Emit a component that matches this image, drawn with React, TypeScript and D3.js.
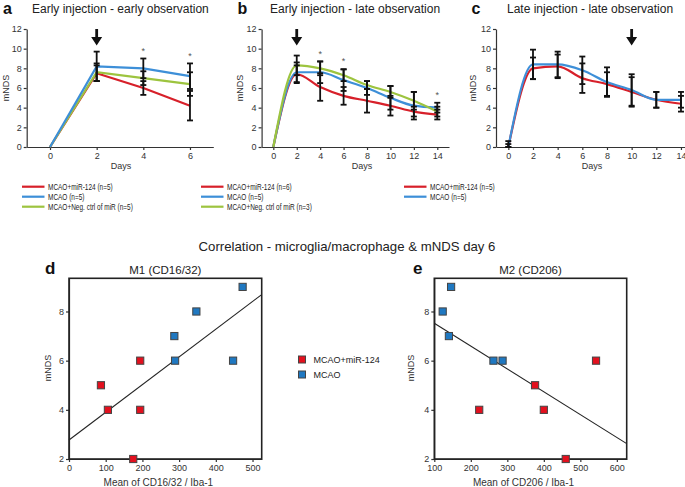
import React, { useRef, useEffect } from 'react';
import * as d3 from 'd3';

const W = 685, H = 487;
const FONT = 'Arial, "Liberation Sans", Helvetica, sans-serif';

const RED = '#d7202a';
const BLUE = '#3d8fd8';
const GREEN = '#9dc43f';
const SQ_RED = '#e3101e';
const SQ_BLUE = '#1f78c1';

// panel a - early injection, early observation
const daysA = [0, 2, 4, 6];
const aRed = [0, 7.5, 6.0, 4.2];
const aRedErr = [0, 0.8, 0.7, 1.5];
const aBlue = [0, 8.2, 8.0, 7.2];
const aBlueErr = [0, 1.5, 1.0, 1.3];
const aGreen = [0, 7.6, 7.0, 6.4];
const aGreenErr = [0, 0.9, 0.7, 1.2];
const aStars = [4, 6];
const aLegend = ['MCAO+miR-124 (n=5)', 'MCAO (n=5)', 'MCAO+Neg. ctrl of miR (n=5)'];

// panel b - early injection, late observation
const daysB = [0, 2, 4, 6, 8, 10, 12, 14];
const bRed = [0, 7.4, 6.1, 5.2, 4.7, 4.2, 3.6, 3.3];
const bRedErr = [0, 0.9, 1.4, 0.9, 1.2, 1.0, 0.5, 0.5];
const bBlue = [0, 7.6, 7.6, 6.8, 6.0, 5.0, 4.2, 4.0];
const bBlueErr = [0, 1.0, 1.1, 1.1, 0.7, 1.2, 1.4, 0.5];
const bGreen = [0, 8.3, 8.0, 7.3, 6.3, 5.6, 4.7, 3.6];
const bGreenErr = [0, 1.0, 0.7, 0.6, 0.4, 0.6, 0.9, 0.5];
const bStars = [4, 6, 14];
const bLegend = ['MCAO+miR-124 (n=6)', 'MCAO (n=5)', 'MCAO+Neg. ctrl of miR (n=3)'];

// panel c - late injection, late observation
const daysC = [0, 2, 4, 6, 8, 10, 12, 14];
const cRed = [0, 8.0, 8.2, 7.0, 6.4, 5.6, 4.8, 4.4];
const cRedErr = [0.3, 1.1, 1.2, 1.5, 1.2, 1.5, 0.8, 0.8];
const cBlue = [0, 8.4, 8.4, 7.8, 6.6, 5.8, 4.8, 4.8];
const cBlueErr = [0.6, 1.5, 1.3, 1.4, 1.5, 1.6, 0.8, 0.8];
const cLegend = ['MCAO+miR-124 (n=5)', 'MCAO (n=5)'];

const yTicksTop = [0, 2, 4, 6, 8, 10, 12];

// panels d / e - correlation with mNDS day 6
const m1RedX = [87, 106, 194, 194, 175];
const m1RedY = [5, 4, 6, 4, 2];
const m1BlueX = [287, 289, 347, 447, 473];
const m1BlueY = [7, 6, 8, 6, 9];
const m2RedX = [223, 376, 400, 460, 543];
const m2RedY = [4, 5, 4, 2, 6];
const m2BlueX = [123, 146, 140, 262, 287];
const m2BlueY = [8, 9, 7, 6, 6];
const scatterLegend = ['MCAO+miR-124', 'MCAO'];
const yTicksScatter = [2, 4, 6, 8];

export default function App() {
    const svg_ref = useRef(null);
    useEffect(() => {
        const svg = d3.select(svg_ref.current);
        svg.selectAll('*').remove();
        draw(svg);
    }, []);
    return (
        <div style={{ position: 'absolute', left: 0, top: 0 }}>
            <svg ref={svg_ref} width={W} height={H} style={{ display: 'block', background: '#fff' }}></svg>
        </div>
    );
}

function series(vals, errs, color, name) {
    return { vals, errs, color, name };
}

function draw(svg) {
    svg.style('font-family', FONT);

    drawTimePanel(svg, {
        days: daysA, xDomain: [-1, 7], xRange: [26.7, 213.3], curve: d3.curveLinear,
        series: [series(aRed, aRedErr, RED), series(aGreen, aGreenErr, GREEN), series(aBlue, aBlueErr, BLUE)],
        legendSeries: [RED, BLUE, GREEN], legend: aLegend,
        stars: aStars, arrowDay: 2, letter: 'a', letterX: 3, title: 'Early injection - early observation', titleX: 32,
        ylabelX: 9, daysX: 121, legendX: 22
    });
    drawTimePanel(svg, {
        days: daysB, xDomain: [-1, 15], xRange: [261.6, 449], curve: d3.curveMonotoneX,
        series: [series(bRed, bRedErr, RED), series(bBlue, bBlueErr, BLUE), series(bGreen, bGreenErr, GREEN)],
        legendSeries: [RED, BLUE, GREEN], legend: bLegend,
        stars: bStars, arrowDay: 2, letter: 'b', letterX: 237.5, title: 'Early injection - late observation', titleX: 270,
        ylabelX: 243, daysX: 362, legendX: 201
    });
    drawTimePanel(svg, {
        days: daysC, xDomain: [-1, 15], xRange: [496, 693.3], curve: d3.curveMonotoneX,
        series: [series(cRed, cRedErr, RED), series(cBlue, cBlueErr, BLUE)],
        legendSeries: [RED, BLUE], legend: cLegend,
        stars: [], arrowDay: 10, letter: 'c', letterX: 471.5, title: 'Late injection - late observation', titleX: 507,
        ylabelX: 476, daysX: 592, legendX: 404
    });

    svg.append('text')
        .attr('x', 347).attr('y', 251)
        .attr('text-anchor', 'middle')
        .style('font-size', '13.2px').style('fill', '#222')
        .text('Correlation - microglia/macrophage & mNDS day 6');

    drawScatter(svg, {
        xDomain: [0, 525], xRange: [69, 261.7], xTicks: [0, 100, 200, 300, 400, 500],
        red: [m1RedX, m1RedY], blue: [m1BlueX, m1BlueY],
        letter: 'd', letterX: 45, title: 'M1 (CD16/32)', xlabel: 'Mean of CD16/32 / Iba-1', ylabelX: 51
    });
    drawScatter(svg, {
        xDomain: [100, 627], xRange: [434.3, 626.7], xTicks: [100, 200, 300, 400, 500, 600],
        red: [m2RedX, m2RedY], blue: [m2BlueX, m2BlueY],
        letter: 'e', letterX: 413, title: 'M2 (CD206)', xlabel: 'Mean of CD206 / Iba-1', ylabelX: 414
    });

    // scatter legend
    [SQ_RED, SQ_BLUE].forEach((c, i) => {
        const cy = 359.5 + i * 15;
        svg.append('rect')
            .attr('x', 298.5).attr('y', cy - 3.5).attr('width', 7).attr('height', 7)
            .attr('fill', c).attr('stroke', '#444').attr('stroke-width', 1);
        svg.append('text')
            .attr('x', 313.5).attr('y', cy + 3.2)
            .style('font-size', '9px').style('fill', '#222')
            .text(scatterLegend[i]);
    });
}

function styleAxis(g) {
    g.selectAll('path').attr('stroke', '#333').attr('stroke-width', 1.2);
    g.selectAll('line').attr('stroke', '#333').attr('stroke-width', 1.2);
    g.selectAll('text').style('font-family', FONT).style('font-size', '9px').attr('fill', '#333');
}

function drawTimePanel(svg, p) {
    const x = d3.scaleLinear().domain(p.xDomain).range(p.xRange);
    const y = d3.scaleLinear().domain([0, 12]).range([147, 29]);
    const g = svg.append('g');

    const y_axis = d3.axisLeft(y).tickValues(yTicksTop).tickSize(3).tickSizeOuter(0).tickPadding(2);
    g.append('g').attr('transform', `translate(${p.xRange[0]},0)`).call(y_axis).call(styleAxis);

    const x_axis = d3.axisBottom(x).tickValues(p.days).tickSize(3).tickSizeOuter(0).tickPadding(2.5);
    g.append('g').attr('transform', 'translate(0,147)').call(x_axis).call(styleAxis);

    // titles
    g.append('text').attr('x', p.letterX).attr('y', 13.5)
        .style('font-size', '16px').style('font-weight', 'bold').attr('fill', '#111').text(p.letter);
    g.append('text').attr('x', p.titleX).attr('y', 12.8)
        .style('font-size', '12px').attr('fill', '#222').text(p.title);
    g.append('text').attr('x', p.daysX).attr('y', 169).attr('text-anchor', 'middle')
        .style('font-size', '9px').attr('fill', '#333').text('Days');
    g.append('text').attr('transform', `translate(${p.ylabelX},88) rotate(-90)`).attr('text-anchor', 'middle')
        .style('font-size', '9px').attr('fill', '#333').text('mNDS');

    // lines
    const line = d3.line()
        .x((d, i) => x(p.days[i]))
        .y(d => y(d))
        .curve(p.curve);
    g.selectAll('path.series')
        .data(p.series)
        .join('path')
        .attr('class', 'series')
        .attr('d', d => line(d.vals))
        .attr('fill', 'none')
        .attr('stroke', d => d.color)
        .attr('stroke-width', 2.2);

    // error bars
    p.series.forEach(s => {
        s.vals.forEach((v, i) => {
            const e = s.errs[i];
            if (!e) return;
            const cx = x(p.days[i]);
            const lo = y(Math.max(0, v - e)), hi = y(v + e);
            g.append('line').attr('x1', cx).attr('x2', cx).attr('y1', lo).attr('y2', hi)
                .attr('stroke', '#111').attr('stroke-width', 1.8);
            [lo, hi].forEach(yy => g.append('line')
                .attr('x1', cx - 3).attr('x2', cx + 3).attr('y1', yy).attr('y2', yy)
                .attr('stroke', '#111').attr('stroke-width', 1.8));
        });
    });

    // significance stars
    p.stars.forEach(day => {
        const i = p.days.indexOf(day);
        const top = d3.max(p.series, s => s.vals[i] + s.errs[i]);
        g.append('text').attr('x', x(day)).attr('y', y(top + 0.5)).attr('text-anchor', 'middle')
            .style('font-size', '9px').attr('fill', '#555').text('*');
    });

    // injection arrow
    const ax = x(p.arrowDay);
    g.append('path')
        .attr('d', `M${ax - 1.4},29 L${ax + 1.4},29 L${ax + 1.4},37 L${ax + 5.5},37 L${ax},45.5 L${ax - 5.5},37 L${ax - 1.4},37 Z`)
        .attr('fill', '#111');

    // legend
    p.legendSeries.forEach((c, i) => {
        const ly = 186.7 + i * 10;
        g.append('line').attr('x1', p.legendX).attr('x2', p.legendX + 22.5).attr('y1', ly).attr('y2', ly)
            .attr('stroke', c).attr('stroke-width', 2.2);
        g.append('text').attr('transform', `translate(${p.legendX + 26},${ly + 3.2}) scale(0.72,1)`)
            .style('font-size', '9px').attr('fill', '#222').text(p.legend[i]);
    });
}

function drawScatter(svg, p) {
    const x = d3.scaleLinear().domain(p.xDomain).range(p.xRange);
    const y = d3.scaleLinear().domain([2, 9.35]).range([459, 278.3]);
    const g = svg.append('g');

    const x_axis = d3.axisBottom(x).tickValues(p.xTicks).tickSize(3).tickSizeOuter(0).tickPadding(3);
    g.append('g').attr('transform', 'translate(0,459)').call(x_axis).call(styleAxis);
    const y_axis = d3.axisLeft(y).tickValues(yTicksScatter).tickSize(3).tickSizeOuter(0).tickPadding(2);
    g.append('g').attr('transform', `translate(${p.xRange[0]},0)`).call(y_axis).call(styleAxis);

    g.append('rect')
        .attr('x', p.xRange[0]).attr('y', y(9.35))
        .attr('width', p.xRange[1] - p.xRange[0]).attr('height', y(2) - y(9.35))
        .attr('fill', 'none').attr('stroke', '#222').attr('stroke-width', 1.6);

    // least-squares fit over both groups
    const pts = [
        ...p.red[0].map((v, i) => [v, p.red[1][i]]),
        ...p.blue[0].map((v, i) => [v, p.blue[1][i]])
    ];
    const mx = d3.mean(pts, d => d[0]), my = d3.mean(pts, d => d[1]);
    const slope = d3.sum(pts, d => (d[0] - mx) * (d[1] - my)) / d3.sum(pts, d => (d[0] - mx) ** 2);
    const fit = v => my + slope * (v - mx);
    g.append('line')
        .attr('x1', x(p.xDomain[0])).attr('y1', y(fit(p.xDomain[0])))
        .attr('x2', x(p.xDomain[1])).attr('y2', y(fit(p.xDomain[1])))
        .attr('stroke', '#222').attr('stroke-width', 1.1);

    const groups = [
        { c: SQ_BLUE, xs: p.blue[0], ys: p.blue[1] },
        { c: SQ_RED, xs: p.red[0], ys: p.red[1] }
    ];
    groups.forEach(gr => {
        g.selectAll(null)
            .data(gr.xs.map((v, i) => [v, gr.ys[i]]))
            .join('rect')
            .attr('x', d => x(d[0]) - 3.6).attr('y', d => y(d[1]) - 3.6)
            .attr('width', 7.2).attr('height', 7.2)
            .attr('fill', gr.c).attr('stroke', '#444').attr('stroke-width', 1);
    });

    g.append('text').attr('x', p.letterX).attr('y', 274)
        .style('font-size', '17px').style('font-weight', 'bold').attr('fill', '#111').text(p.letter);
    g.append('text').attr('x', (p.xRange[0] + p.xRange[1]) / 2).attr('y', 274).attr('text-anchor', 'middle')
        .style('font-size', '11.5px').attr('fill', '#222').text(p.title);
    g.append('text').attr('x', (p.xRange[0] + p.xRange[1]) / 2 - 7).attr('y', 486).attr('text-anchor', 'middle')
        .style('font-size', '10px').attr('fill', '#333').text(p.xlabel);
    g.append('text').attr('transform', `translate(${p.ylabelX},368) rotate(-90)`).attr('text-anchor', 'middle')
        .style('font-size', '9px').attr('fill', '#333').text('mNDS');
}
